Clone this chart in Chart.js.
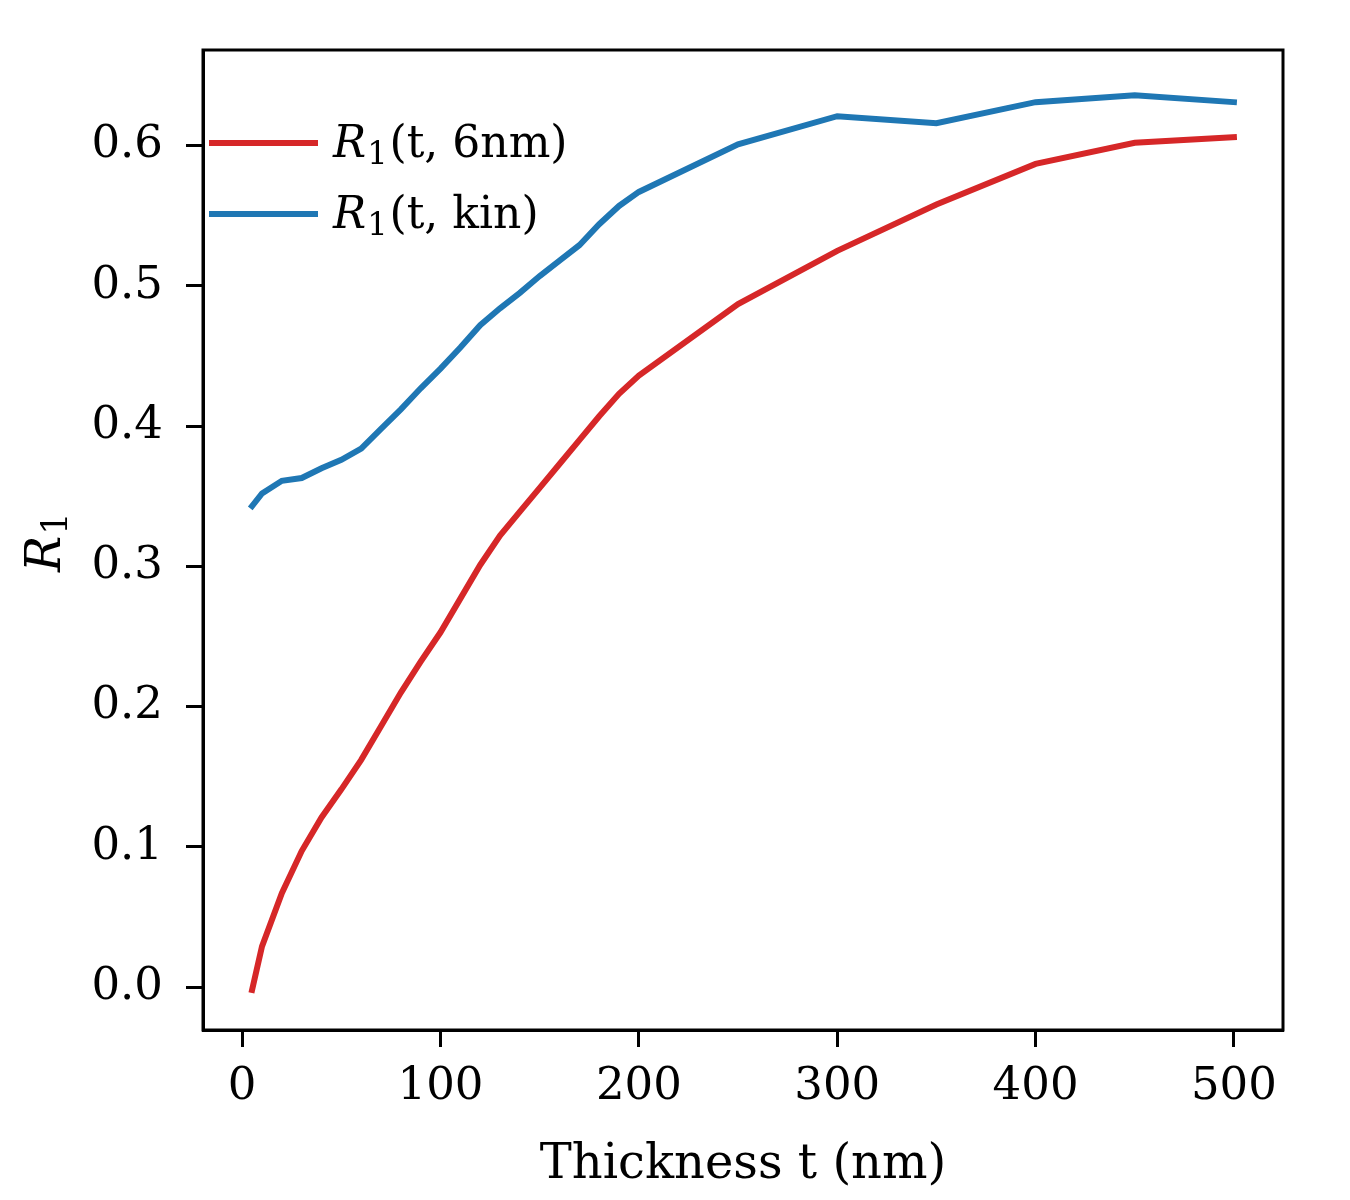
<!DOCTYPE html>
<html>
<head>
<meta charset="utf-8">
<script src="https://cdn.jsdelivr.net/npm/chart.js@4"></script>
<style>
  body { margin: 0; background: #fff; }
</style>
</head>
<body>
<canvas id="r1_chart" width="1350" height="1200"></canvas>
<script>
  // thickness t (nm) and the two R1 curves
  const thickness = [5, 10, 20, 30, 40, 50, 60, 70, 80, 90, 100, 110, 120, 130, 140, 150, 160, 170, 180, 190, 200, 250, 300, 350, 400, 450, 500]
  const r1_6nm = [-0.002, 0.029, 0.067, 0.097, 0.121, 0.141, 0.162, 0.186, 0.210, 0.232, 0.253, 0.277, 0.301, 0.322, 0.339, 0.356, 0.373, 0.390, 0.407, 0.423, 0.436, 0.487, 0.525, 0.558, 0.587, 0.602, 0.606]
  const r1_kin = [0.343, 0.352, 0.361, 0.363, 0.370, 0.376, 0.384, 0.398, 0.412, 0.427, 0.441, 0.456, 0.472, 0.484, 0.495, 0.507, 0.518, 0.529, 0.544, 0.557, 0.567, 0.601, 0.621, 0.616, 0.631, 0.636, 0.631]
  const xTicks = [0, 100, 200, 300, 400, 500]
  const yTicks = [0.0, 0.1, 0.2, 0.3, 0.4, 0.5, 0.6]
  const legendLabels = ['(t, 6nm)', '(t, kin)']

  const FONT = 'DejaVu Serif'
  const RED = '#d62728'
  const BLUE = '#1f77b4'

  // draws "R" italic + subscript "1" + rest
  function drawR1(ctx, x, y, rest, size) {
    ctx.fillStyle = '#000'
    ctx.textBaseline = 'alphabetic'
    ctx.textAlign = 'left'
    ctx.font = 'italic ' + size + 'px "' + FONT + '"'
    ctx.fillText('R', x, y)
    x += ctx.measureText('R').width + 1
    ctx.font = Math.round(size * 0.72) + 'px "' + FONT + '"'
    ctx.fillText('1', x, y + 7)
    x += ctx.measureText('1').width + 2
    if (rest) {
      ctx.font = size + 'px "' + FONT + '"'
      ctx.fillText(rest, x, y)
    }
  }

  const framePlugin = {
    id: 'frame',
    afterDraw(chart) {
      const { ctx, chartArea: a } = chart
      ctx.save()
      ctx.strokeStyle = '#000'
      ctx.lineWidth = 3
      ctx.strokeRect(a.left, a.top, a.right - a.left, a.bottom - a.top)

      // legend
      const colors = [RED, BLUE]
      legendLabels.forEach((lab, i) => {
        const cy = 143 + i * 71
        ctx.strokeStyle = colors[i]
        ctx.lineWidth = 6
        ctx.beginPath()
        ctx.moveTo(a.left + 6, cy)
        ctx.lineTo(a.left + 115, cy)
        ctx.stroke()
        drawR1(ctx, a.left + 130, cy + 14, lab, 44)
      })

      // y axis title, rotated
      ctx.translate(60, 572)
      ctx.rotate(-Math.PI / 2)
      drawR1(ctx, 0, 0, '', 48)
      ctx.restore()
    }
  }

  new Chart(
    document.getElementById('r1_chart'),
    {
      type: 'line',
      data: {
        datasets: [
          {
            label: 'R1(t, 6nm)',
            data: thickness.map((t, i) => ({ x: t, y: r1_6nm[i] })),
            borderColor: RED,
            borderWidth: 6,
            borderCapStyle: 'square',
            pointRadius: 0,
            tension: 0
          },
          {
            label: 'R1(t, kin)',
            data: thickness.map((t, i) => ({ x: t, y: r1_kin[i] })),
            borderColor: BLUE,
            borderWidth: 6,
            borderCapStyle: 'square',
            pointRadius: 0,
            tension: 0
          }
        ]
      },
      options: {
        responsive: false,
        animation: false,
        devicePixelRatio: 1,
        layout: {
          padding: { left: 0, top: 47, right: 67, bottom: 0 }
        },
        plugins: {
          legend: { display: false },
          tooltip: { enabled: false }
        },
        scales: {
          x: {
            type: 'linear',
            min: -19.75,
            max: 524.75,
            afterFit: s => { s.height = 170 },
            afterBuildTicks: s => { s.ticks = xTicks.map(v => ({ value: v })) },
            grid: {
              drawOnChartArea: false,
              tickLength: 17,
              tickWidth: 3,
              tickColor: '#000'
            },
            border: { color: '#000', width: 3 },
            ticks: {
              color: '#000',
              font: { family: FONT, size: 45 },
              padding: 13,
              maxRotation: 0,
              callback: v => String(v)
            },
            title: {
              display: true,
              text: 'Thickness t (nm)',
              color: '#000',
              font: { family: FONT, size: 48 },
              padding: { top: 4, bottom: 6 }
            }
          },
          y: {
            type: 'linear',
            min: -0.0306,
            max: 0.6682,
            afterFit: s => { s.width = 203 },
            afterBuildTicks: s => { s.ticks = yTicks.map(v => ({ value: v })) },
            grid: {
              drawOnChartArea: false,
              tickLength: 17,
              tickWidth: 3,
              tickColor: '#000'
            },
            border: { color: '#000', width: 3 },
            ticks: {
              color: '#000',
              font: { family: FONT, size: 45 },
              padding: 23,
              callback: v => v.toFixed(1)
            }
          }
        }
      },
      plugins: [framePlugin]
    }
  );
</script>
</body>
</html>
